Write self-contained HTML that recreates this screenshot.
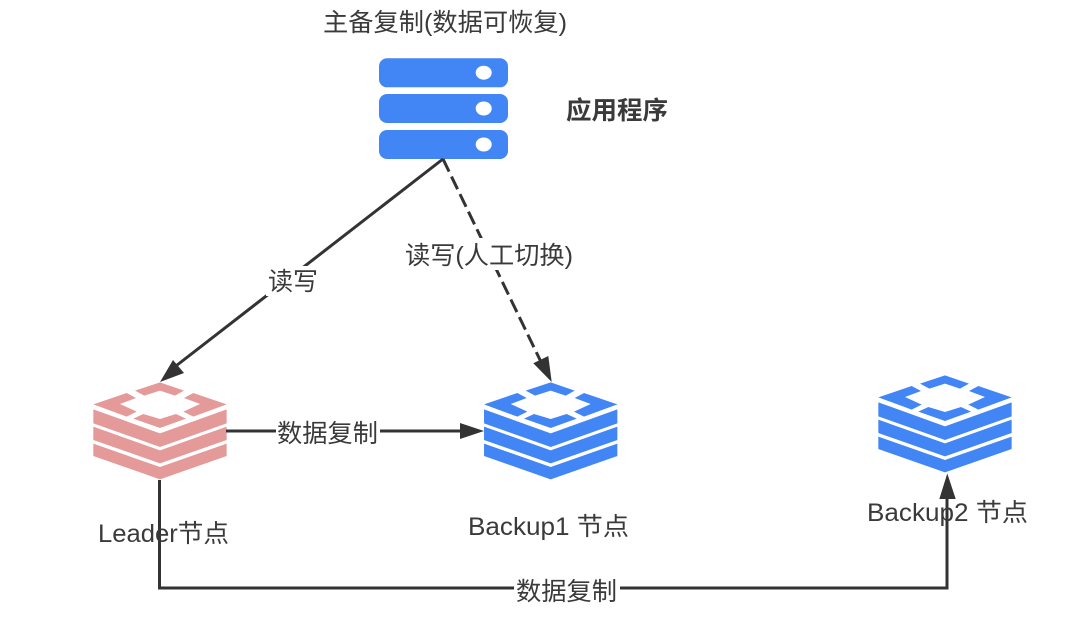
<!DOCTYPE html>
<html><head><meta charset="utf-8">
<style>html,body{margin:0;padding:0;background:#fff;width:1080px;height:619px;overflow:hidden}
svg{display:block}
text{font-family:"Liberation Sans","Noto Sans CJK SC",sans-serif;fill:#3a3a3a;font-size:25px}
</style></head><body>
<svg width="1080" height="619" viewBox="0 0 1080 619" xmlns="http://www.w3.org/2000/svg">
<defs>
<g id="stack" transform="scale(0.3333)">
<polygon points="165,62 240,37 312,62 285,77 240,62 193,77"/>
<polygon points="40,103 140,69 168,84 120,102 170,125 140,140"/>
<polygon points="440,103 340,69 312,84 360,102 310,125 340,140"/>
<polygon points="160,146 190,132 240,147 288,132 318,146 240,174"/>
<polygon points="40,118 240,190 440,118 440,160 240,231 40,160"/>
<polygon points="40,170 240,241 440,170 440,210 240,280 40,210"/>
<polygon points="40,221 240,291 440,221 440,258 240,328 40,258"/>
</g>
</defs>
<g fill="#4285f4">
<rect x="379" y="58.3" width="129" height="29" rx="8"/>
<rect x="379" y="94" width="129" height="29" rx="8"/>
<rect x="379" y="130" width="129" height="29" rx="8"/>
</g>
<g fill="#fff">
<ellipse cx="483.7" cy="72.7" rx="8" ry="7"/>
<ellipse cx="483.7" cy="108.5" rx="8" ry="7"/>
<ellipse cx="483.7" cy="144.5" rx="8" ry="7"/>
</g>
<use href="#stack" transform="translate(80,370)" fill="#e59a9a"/>
<use href="#stack" transform="translate(470.7,370)" fill="#4285f4"/>
<use href="#stack" transform="translate(865,363)" fill="#4285f4"/>
<g stroke="#333" stroke-width="3" fill="none">
<line x1="443" y1="159" x2="172" y2="369"/>
<line x1="443" y1="159" x2="542" y2="364" stroke-dasharray="14 5.5"/>
<line x1="226" y1="431" x2="462" y2="431"/>
<polyline points="159.500,480 159.500,588 947,588 947,495"/>
</g>
<g fill="#333">
<polygon points="160,382 173,360 184,373"/>
<polygon points="551.700,382 533.300,363.300 548.300,356"/>
<polygon points="484,431 460,423 460,439"/>
<polygon points="947.300,473.500 939.300,499 955.700,499"/>
</g>
<g fill="#fff">
<rect x="266" y="266" width="54" height="30"/>
<rect x="403" y="238" width="174" height="32"/>
<rect x="276" y="418" width="104" height="28"/>
<rect x="514" y="576" width="106" height="28"/>
</g>
<text x="323" y="31" textLength="244" lengthAdjust="spacingAndGlyphs">主备复制(数据可恢复)</text>
<text x="566" y="119" textLength="102" lengthAdjust="spacingAndGlyphs" style="font-weight:700">应用程序</text>
<text x="268" y="290" textLength="50" lengthAdjust="spacingAndGlyphs">读写</text>
<text x="405" y="264" textLength="168" lengthAdjust="spacingAndGlyphs">读写(人工切换)</text>
<text x="277" y="442" textLength="101" lengthAdjust="spacingAndGlyphs">数据复制</text>
<text x="516" y="600" textLength="101" lengthAdjust="spacingAndGlyphs">数据复制</text>
<text x="98" y="542" textLength="131" lengthAdjust="spacingAndGlyphs">Leader节点</text>
<text x="468" y="535" textLength="161" lengthAdjust="spacingAndGlyphs">Backup1 节点</text>
<text x="867" y="521" textLength="161" lengthAdjust="spacingAndGlyphs">Backup2 节点</text>
</svg>
</body></html>
